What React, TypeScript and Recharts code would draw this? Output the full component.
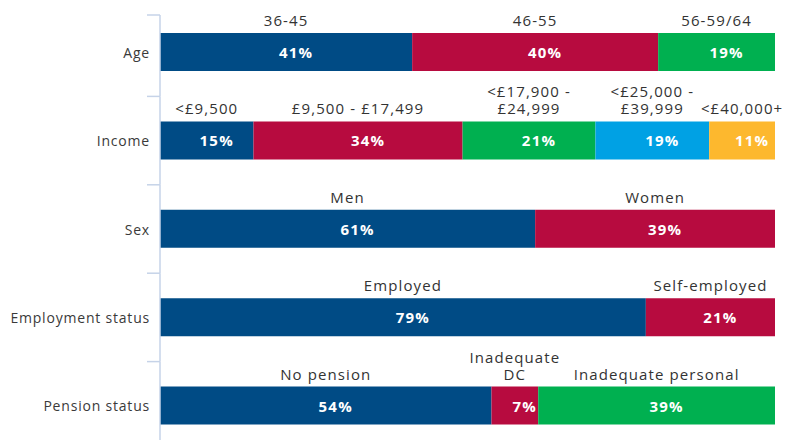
import React from "react";
import { BarChart, Bar, XAxis, YAxis, LabelList } from "recharts";

const categories = ["Age", "Income", "Sex", "Employment status", "Pension status"];

const seg1Values = [41, 15.2, 61, 79, 53.9];
const seg2Values = [40, 34, 39, 21, 7.6];
const seg3Values = [19, 21.6, 0, 0, 38.5];
const seg4Values = [0, 18.5, 0, 0, 0];
const seg5Values = [0, 10.7, 0, 0, 0];

const seg1Pct = ["41%", "15%", "61%", "79%", "54%"];
const seg2Pct = ["40%", "34%", "39%", "21%", "7%"];
const seg3Pct = ["19%", "21%", "", "", "39%"];
const seg4Pct = ["", "19%", "", "", ""];
const seg5Pct = ["", "11%", "", "", ""];

const seg1Names = ["36-45", "<£9,500", "Men", "Employed", "No pension"];
const seg2Names = ["46-55", "£9,500 - £17,499", "Women", "Self-employed", "Inadequate\nDC"];
const seg3Names = ["56-59/64", "<£17,900 -\n£24,999", "", "", "Inadequate personal"];
const seg4Names = ["", "<£25,000 -\n£39,999", "", "", ""];
const seg5Names = ["", "<£40,000+", "", "", ""];

const colors = ["#004b85", "#b70b3f", "#00b050", "#00a1e4", "#fdb82e"];

const rows = categories.map((cat, i) => ({
  cat,
  s1: seg1Values[i],
  s2: seg2Values[i],
  s3: seg3Values[i],
  s4: seg4Values[i],
  s5: seg5Values[i],
}));

const series = [
  { key: "s1", pct: seg1Pct, names: seg1Names },
  { key: "s2", pct: seg2Pct, names: seg2Names },
  { key: "s3", pct: seg3Pct, names: seg3Names },
  { key: "s4", pct: seg4Pct, names: seg4Names },
  { key: "s5", pct: seg5Pct, names: seg5Names },
];

const FONT = "'Open Sans', 'Noto Sans', sans-serif";
const AXIS_COLOR = "#c6d3e8";
const HALF_BAND = 44.2;

const renderTick = (props: any) => {
  const { y, payload, index } = props;
  const top = index === 0 ? 15 : y - HALF_BAND;
  return (
    <g>
      <line x1={160} x2={160} y1={top} y2={y + HALF_BAND} stroke={AXIS_COLOR} strokeWidth={1.5} />
      <line x1={147} x2={160} y1={top} y2={top} stroke={AXIS_COLOR} strokeWidth={1.5} />
      <text
        x={150}
        y={y}
        textAnchor="end"
        dominantBaseline="central"
        fontFamily={FONT}
        fontSize={14}
        letterSpacing={0.8}
        fill="#3a3a3a"
      >
        {payload.value}
      </text>
    </g>
  );
};

const catOf = (d: any) => d.cat;

const makeInner = (pct: string[]) => (p: any) => {
  const { x, y, width, height, value } = p;
  const idx = categories.indexOf(String(value));
  const label = pct[idx];
  if (!label || !width) return null;
  return (
    <text
      x={Number(x) + Number(width) / 2 + 10}
      y={Number(y) + Number(height) / 2}
      textAnchor="middle"
      dominantBaseline="central"
      fontFamily={FONT}
      fontSize={15}
      fontWeight={700}
      letterSpacing={1.2}
      fill="#ffffff"
    >
      {label}
    </text>
  );
};

const makeAbove = (names: string[]) => (p: any) => {
  const { x, y, width, value } = p;
  const idx = categories.indexOf(String(value));
  const label = names[idx];
  if (!label || !width) return null;
  const lines = label.split("\n");
  const cx = Number(x) + Number(width) / 2;
  const firstY = Number(y) - 13 - (lines.length - 1) * 17;
  return (
    <text
      x={cx}
      y={firstY}
      textAnchor="middle"
      dominantBaseline="central"
      fontFamily={FONT}
      fontSize={15}
      letterSpacing={1.1}
      fill="#333333"
    >
      {lines.map((ln, j) => (
        <tspan key={j} x={cx} y={firstY + j * 17}>
          {ln}
        </tspan>
      ))}
    </text>
  );
};

export default function App() {
  return (
    <div style={{ position: "absolute", left: 0, top: 0, width: 787, height: 440, overflow: "hidden", background: "#ffffff" }}>
      <BarChart
        width={787}
        height={450}
        data={rows}
        layout="vertical"
        margin={{ top: 8, right: 12, bottom: 0, left: 0 }}
        barCategoryGap={0}
      >
        <XAxis type="number" domain={[0, 100]} hide />
        <YAxis
          type="category"
          dataKey="cat"
          width={160}
          axisLine={false}
          tickLine={false}
          interval={0}
          tick={renderTick}
        />
        {series.map((s, i) => (
          <Bar key={s.key} dataKey={s.key} stackId="a" fill={colors[i]} barSize={38} isAnimationActive={false}>
            <LabelList dataKey={catOf} content={makeInner(s.pct)} />
            <LabelList dataKey={catOf} content={makeAbove(s.names)} />
          </Bar>
        ))}
      </BarChart>
    </div>
  );
}
